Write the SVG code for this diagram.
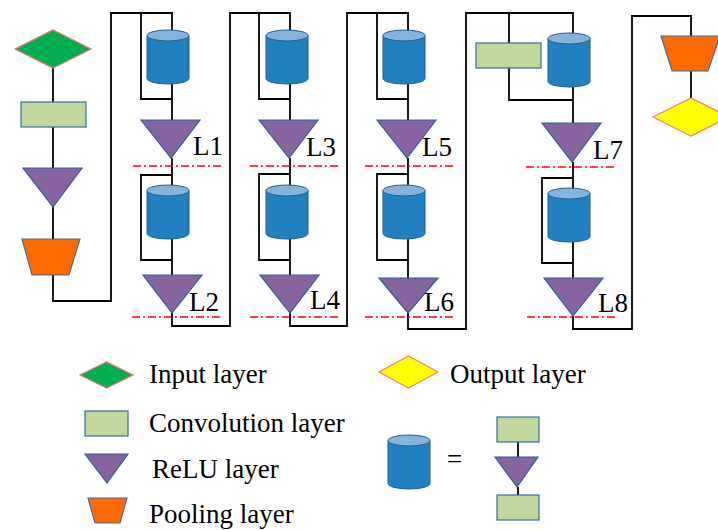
<svg xmlns="http://www.w3.org/2000/svg" width="718" height="530" viewBox="0 0 718 530">
<style>
.ln{fill:none;stroke:#000;stroke-width:1.8}
.rd{fill:none;stroke:#FF0000;stroke-width:1.5;stroke-dasharray:8 3 2 3}
.cb{fill:#2080C0;stroke:#1F5F95;stroke-width:1}
.ct{fill:#85B3DA;stroke:#1F5F95;stroke-width:1}
.tri{fill:#8763A1;stroke:#2F5F95;stroke-width:1.2}
.cv{fill:#C0D89D;stroke:#2F6E9E;stroke-width:1.2}
.pl{fill:#FF6A00;stroke:#3B6FA0;stroke-width:1.2}
.in{fill:#00B050;stroke:#E8706A;stroke-width:1.2}
.out{fill:#FFFF00;stroke:#F0806A;stroke-width:1.2}
text{font-family:'Liberation Serif','Times New Roman',serif;font-size:27px;fill:#000}
</style>
<defs>
<g id="cyl">
<path class="cb" d="M0,5.5 V48.5 A21,5.5 0 0 0 42,48.5 V5.5 Z"/>
<ellipse class="ct" cx="21" cy="5.5" rx="21" ry="5.5"/>
</g>
</defs>
<g id="connectors">
<polyline class="ln" points="53,68 53,102"/>
<polyline class="ln" points="53,127 53,168"/>
<polyline class="ln" points="53,207 53,239"/>
<polyline class="ln" points="53,275 53,301 111,301 111,13 172,13 172,32"/>
<polyline class="ln" points="141,13 141,99 172,99"/>
<polyline class="ln" points="172,84 172,120"/>
<polyline class="ln" points="172,158 172,188"/>
<polyline class="ln" points="172,175 141,175 141,260 172,260"/>
<polyline class="ln" points="172,239 172,275"/>
<polyline class="ln" points="172,313 172,326 230,326 230,13 290,13 290,32"/>
<polyline class="ln" points="259,13 259,99 290,99"/>
<polyline class="ln" points="290,84 290,120"/>
<polyline class="ln" points="290,158 290,188"/>
<polyline class="ln" points="290,174 259,174 259,260 290,260"/>
<polyline class="ln" points="290,239 290,275"/>
<polyline class="ln" points="290,313 290,326 347,326 347,13 408,13 408,32"/>
<polyline class="ln" points="377,13 377,99 408,99"/>
<polyline class="ln" points="408,84 408,120"/>
<polyline class="ln" points="408,158 408,188"/>
<polyline class="ln" points="408,174 377,174 377,260 408,260"/>
<polyline class="ln" points="408,239 408,278"/>
<polyline class="ln" points="408,313 408,329 466,329 466,13 573,13 573,35"/>
<polyline class="ln" points="509,13 509,43"/>
<polyline class="ln" points="509,68 509,100 573,100"/>
<polyline class="ln" points="573,87 573,123"/>
<polyline class="ln" points="573,162 573,191"/>
<polyline class="ln" points="573,178 542,178 542,263 573,263"/>
<polyline class="ln" points="573,242 573,278"/>
<polyline class="ln" points="573,316 573,329 632,329 632,16 691,16 691,36"/>
<polyline class="ln" points="691,71 691,98"/>
<polyline class="ln" points="518,442 518,457"/>
<polyline class="ln" points="518,487 518,495"/>
</g>
<g id="dividers">
<line class="rd" x1="133" y1="166" x2="223" y2="166"/>
<line class="rd" x1="132" y1="317" x2="222" y2="317"/>
<line class="rd" x1="250" y1="166" x2="340" y2="166"/>
<line class="rd" x1="250" y1="317" x2="340" y2="317"/>
<line class="rd" x1="365" y1="166" x2="455" y2="166"/>
<line class="rd" x1="365" y1="317" x2="455" y2="317"/>
<line class="rd" x1="526" y1="167" x2="615" y2="167"/>
<line class="rd" x1="527" y1="317" x2="617" y2="317"/>
</g>
<g id="input"><polygon class="in" points="15,49 53,30 91,49 53,68"/></g>
<g id="conv0"><rect class="cv" x="21" y="102" width="65" height="25"/></g>
<g id="relu0"><polygon class="tri" points="23,168 82,168 53,207"/></g>
<g id="pool0"><polygon class="pl" points="22,239 80,239 69,275 32,275"/></g>

<g id="cyl1"><use href="#cyl" x="147" y="30"/></g>
<g id="L1"><polygon class="tri" points="141,120 200,120 171,158"/><text x="193" y="155">L1</text></g>
<g id="cyl2"><use href="#cyl" x="147" y="185"/></g>
<g id="L2"><polygon class="tri" points="143,275 202,275 172,313"/><text x="189" y="311">L2</text></g>

<g id="cyl3"><use href="#cyl" x="266" y="30"/></g>
<g id="L3"><polygon class="tri" points="259,120 318,120 289,158"/><text x="306" y="156">L3</text></g>
<g id="cyl4"><use href="#cyl" x="266" y="185"/></g>
<g id="L4"><polygon class="tri" points="260,275 319,275 290,313"/><text x="310" y="309">L4</text></g>

<g id="cyl5"><use href="#cyl" x="383" y="30"/></g>
<g id="L5"><polygon class="tri" points="377,120 436,120 407,158"/><text x="422" y="156">L5</text></g>
<g id="cyl6"><use href="#cyl" x="383" y="185"/></g>
<g id="L6"><polygon class="tri" points="379,278 438,278 408,313"/><text x="424" y="311">L6</text></g>

<g id="conv7"><rect class="cv" x="476" y="43" width="65" height="25"/></g>
<g id="cyl7"><use href="#cyl" x="548" y="33"/></g>
<g id="L7"><polygon class="tri" points="542,123 601,123 572,162"/><text x="593" y="159">L7</text></g>
<g id="cyl8"><use href="#cyl" x="548" y="188"/></g>
<g id="L8"><polygon class="tri" points="544,278 603,278 573,316"/><text x="598" y="312">L8</text></g>

<g id="poolOut"><polygon class="pl" points="661,36 720,36 708,71 672,71"/></g>
<g id="output"><polygon class="out" points="653,117 691,98 729,117 691,136"/></g>

<g id="legend-input"><polygon class="in" points="80,375 106.5,362 133,375 106.5,388"/><text x="149" y="383">Input layer</text></g>
<g id="legend-conv"><rect class="cv" x="85" y="411" width="43" height="25"/><text x="149" y="432">Convolution layer</text></g>
<g id="legend-relu"><polygon class="tri" points="85,454 128,454 107,483"/><text x="152" y="478">ReLU layer</text></g>
<g id="legend-pool"><polygon class="pl" points="88,498 127,498 120,523 95,523"/><text x="149" y="523">Pooling layer</text></g>
<g id="legend-output"><polygon class="out" points="379,372 408.5,356 438,372 408.5,388"/><text x="450" y="383">Output layer</text></g>
<g id="legend-block"><use href="#cyl" x="388" y="435"/><text x="447" y="468">=</text></g>
<g id="legend-block-conv1"><rect class="cv" x="497" y="417" width="42" height="25"/></g>
<g id="legend-block-relu"><polygon class="tri" points="495,457 538,457 517,487"/></g>
<g id="legend-block-conv2"><rect class="cv" x="497" y="495" width="42" height="25"/></g>
</svg>
